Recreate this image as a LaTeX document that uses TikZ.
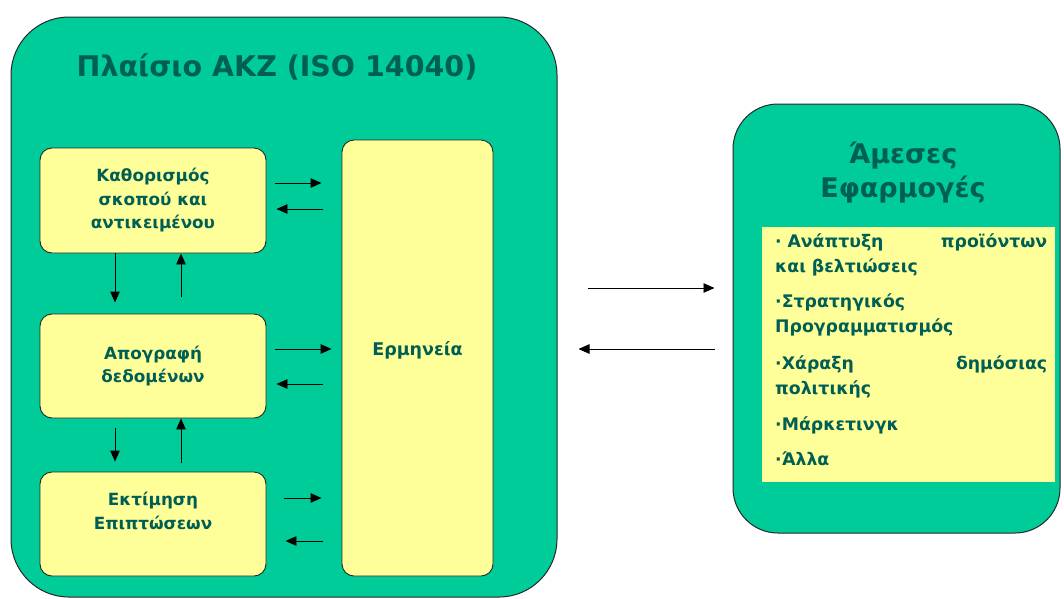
\documentclass[tikz,border=0pt]{standalone}
\usepackage{fontspec}
\setmainfont{DejaVu Sans}
\usetikzlibrary{arrows.meta}
\definecolor{bggreen}{RGB}{0,204,153}
\definecolor{boxyellow}{RGB}{255,255,153}
\definecolor{txtteal}{RGB}{0,95,85}
\tikzset{
  outer/.style={draw=black!85, line width=1pt, fill=bggreen, rounded corners=58pt},
  stepbox/.style={draw=black!85, line width=0.9pt, fill=boxyellow, rounded corners=12pt,
     text=txtteal, font=\bfseries\fontsize{16.8}{23.5}\selectfont, align=center},
  arr/.style={-{Triangle[length=11pt,width=9.5pt]}, line width=0.9pt, black},
}
\begin{document}
\begin{tikzpicture}[x=1pt,y=-1pt]
\useasboundingbox (0,0) rectangle (1064,598);
% outer frames
\node[outer, minimum width=546pt, minimum height=580pt, inner sep=0pt] (L) at (284,307) {};
\node[outer, rounded corners=45pt, minimum width=327pt, minimum height=429pt, inner sep=0pt] (R) at (896.5,318.5) {};
% titles
\node[text=txtteal, font=\bfseries\fontsize{28.5}{32}\selectfont] (LT) at (277,67) {Πλαίσιο AKZ (ISO 14040)};
\node[text=txtteal, font=\fontsize{27}{34}\selectfont\bfseries, align=center] (RT) at (903,173) {Άμεσες\\Εφαρμογές};
% inner boxes
\node[stepbox, minimum width=226pt, minimum height=105pt] (b1) at (153,200.5) {Καθορισμός\\σκοπού και\\αντικειμένου};
\node[stepbox, minimum width=226pt, minimum height=104pt] (b2) at (153,366) {Απογραφή\\δεδομένων};
\node[stepbox, minimum width=226pt, minimum height=104pt] (b3) at (153,524) {};
\node[text=txtteal, font=\bfseries\fontsize{16.8}{23.5}\selectfont, align=center] (b3t) at (153,511) {Εκτίμηση\\Επιπτώσεων};
\node[stepbox, minimum width=151pt, minimum height=436pt] (E) at (417.5,358) {};
\node[text=txtteal, font=\bfseries\fontsize{17.5}{23}\selectfont] (Et) at (417.5,350) {Ερμηνεία};
% yellow list
\node[fill=boxyellow, minimum width=293pt, minimum height=255pt, inner sep=0pt] (Y) at (908.5,354.5) {};
\node[anchor=north west, text=txtteal, text width=272pt, inner sep=0pt,
      font=\bfseries\fontsize{17.3}{25}\selectfont, align=left] (list) at (775,233)
{· Ανάπτυξη\hfill προϊόντων\\
και βελτιώσεις\\[10pt]
·Στρατηγικός\\
Προγραμματισμός\\[12pt]
·Χάραξη\hfill δημόσιας\\
πολιτικής\\[11pt]
·Μάρκετινγκ\\[10pt]
·Άλλα};
% horizontal arrows
\draw[arr, shorten <=9pt, shorten >=20pt] ([yshift=17.5pt]b1.east) -- ([yshift=17.5pt]b1.east -| E.west);
\draw[arr, shorten <=19pt, shorten >=10pt] ([yshift=-8.5pt]b1.east -| E.west) -- ([yshift=-8.5pt]b1.east);
\draw[arr, shorten <=9pt, shorten >=10pt] ([yshift=17pt]b2.east) -- ([yshift=17pt]b2.east -| E.west);
\draw[arr, shorten <=19pt, shorten >=10pt] ([yshift=-18pt]b2.east -| E.west) -- ([yshift=-18pt]b2.east);
\draw[arr, shorten <=18pt, shorten >=20pt] ([yshift=26pt]b3.east) -- ([yshift=26pt]b3.east -| E.west);
\draw[arr, shorten <=19pt, shorten >=19pt] ([yshift=-17pt]b3.east -| E.west) -- ([yshift=-17pt]b3.east);
% vertical arrows
\draw[arr, shorten >=11pt] ([xshift=-38pt]b1.south) -- ([xshift=-38pt]b2.north);
\draw[arr, shorten <=17pt] ([xshift=28pt]b2.north) -- ([xshift=28pt]b1.south);
\draw[arr, shorten <=10pt, shorten >=10pt] ([xshift=-38pt]b2.south) -- ([xshift=-38pt]b3.north);
\draw[arr, shorten <=9pt] ([xshift=28pt]b3.north) -- ([xshift=28pt]b2.south);
% between frames
\draw[arr, shorten <=30pt, shorten >=18pt] ([yshift=30.5pt]R.west -| L.east) -- ([yshift=30.5pt]R.west);
\draw[arr, shorten <=18pt, shorten >=21pt] ([yshift=-30.5pt]R.west) -- ([yshift=-30.5pt]R.west -| L.east);
\end{tikzpicture}
\end{document}
